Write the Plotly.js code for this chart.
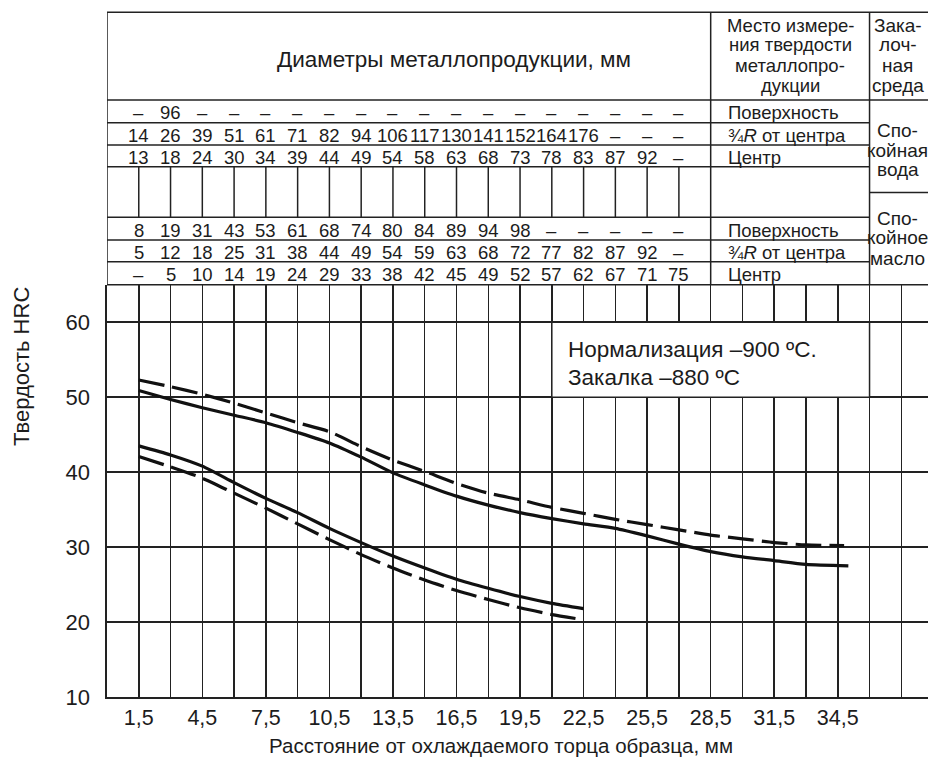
<!DOCTYPE html>
<html>
<head>
<meta charset="utf-8">
<script src="https://cdn.plot.ly/plotly-3.0.1.min.js"></script>
<style>html,body{margin:0;padding:0;background:#fff;}</style>
</head>
<body>
<div id="chart" style="width:928px;height:758px;"></div>
<script>
// ---------------- DATA ----------------
// Jominy curves: distance from quenched end (mm) vs hardness HRC
const distUpperSolid = [1.5,3,4.5,6,7.5,9,10.5,12,13.5,15,16.5,18,19.5,21,22.5,24,25.5,27,28.5,30,31.5,33,35.0];
const hrcUpperSolid  = [50.9,49.7,48.6,47.6,46.6,45.3,43.9,42.0,39.9,38.3,36.8,35.6,34.6,33.8,33.1,32.5,31.5,30.4,29.4,28.7,28.2,27.7,27.5];
const distUpperDash  = [1.5,3,4.5,6,7.5,9,10.5,12,13.5,15,16.5,18,19.5,21,22.5,24,25.5,27,28.5,30,31.5,33,34.8];
const hrcUpperDash   = [52.3,51.4,50.4,49.2,47.9,46.6,45.4,43.4,41.6,40.1,38.5,37.2,36.3,35.3,34.5,33.7,33.0,32.3,31.6,31.1,30.6,30.3,30.2];
const distLower      = [1.5,3,4.5,6,7.5,9,10.5,12,13.5,15,16.5,18,19.5,21,22.5];
const hrcLowerSolid  = [43.5,42.3,40.8,38.6,36.5,34.6,32.5,30.6,28.8,27.2,25.7,24.5,23.4,22.5,21.8];
const hrcLowerDash   = [42.1,40.7,39.2,37.2,35.2,33.1,31.0,29.0,27.2,25.6,24.2,23.0,21.9,21.0,20.3];

// axis ticks
const xTickVals   = [1.5,4.5,7.5,10.5,13.5,16.5,19.5,22.5,25.5,28.5,31.5,34.5];
const xTickLabels = ['1,5','4,5','7,5','10,5','13,5','16,5','19,5','22,5','25,5','28,5','31,5','34,5'];
const yTickVals   = [10,20,30,40,50,60];
const yTickLabels = ['10','20','30','40','50','60'];

// table: product diameters (mm) per distance column
const waterSurface = ['–','96','–','–','–','–','–','–','–','–','–','–','–','–','–','–','–','–'];
const water34R     = ['14','26','39','51','61','71','82','94','106','117','130','141','152','164','176','–','–','–'];
const waterCenter  = ['13','18','24','30','34','39','44','49','54','58','63','68','73','78','83','87','92','–'];
const oilSurface   = ['8','19','31','43','53','61','68','74','80','84','89','94','98','–','–','–','–','–'];
const oil34R       = ['5','12','18','25','31','38','44','49','54','59','63','68','72','77','82','87','92','–'];
const oilCenter    = ['–','5','10','14','19','24','29','33','38','42','45','49','52','57','62','67','71','75'];

const placeLabels  = ['Поверхность','¾<i>R</i> от центра','Центр'];
const headerMain   = 'Диаметры металлопродукции, мм';
const headerPlace  = ['Место измере-','ния твердости','металлопро-','дукции'];
const headerMedium = ['Зака-','лоч-','ная','среда'];
const mediumWater  = ['Спо-','койная','вода'];
const mediumOil    = ['Спо-','койное','масло'];
const noteLines    = ['Нормализация –900 ºC.','Закалка –880 ºC'];
const xTitle = 'Расстояние от охлаждаемого торца образца, мм';
const yTitle = 'Твердость HRC';

// ---------------- DRAWING ----------------
const FONT = '"Liberation Sans", Arial, Helvetica, sans-serif';
const TXT = '#1c1c1c';
const LINE = '#222';
const LW = 1.5;
const H = 758, T = 12, B = 61;
const PH = H - T - B;                 // plot area height in px
const yBottomPx = H - B;              // pixel row of y=10
const PY = py => (yBottomPx - py) / PH; // pixel row -> paper y
const XMAX = 38.76;
const YDOM = 0.6018;

// grid positions every 1.5 mm
const gridX = [];
for (let k = 1; k <= 25; k++) gridX.push(+(1.5 * k).toFixed(1));
const gridText = gridX.map(v => { const i = xTickVals.indexOf(v); return i >= 0 ? xTickLabels[i] : ''; });

const curveLine = (dash) => ({color: '#111', width: 3.2, dash: dash, shape: 'spline', smoothing: 0.6});
const traces = [
  {x: distUpperDash, y: hrcUpperDash, mode: 'lines', line: curveLine('26px,8px'), hoverinfo: 'skip'},
  {x: distUpperSolid, y: hrcUpperSolid, mode: 'lines', line: curveLine('solid'), hoverinfo: 'skip'},
  {x: distLower, y: hrcLowerSolid, mode: 'lines', line: curveLine('solid'), hoverinfo: 'skip'},
  {x: distLower, y: hrcLowerDash, mode: 'lines', line: curveLine('26px,8px'), hoverinfo: 'skip'}
];

// table geometry (pixel rows)
const yTop = 12.3, yHead = 100, yR1 = 122.7, yR2 = 145, yR3 = 166.7, yE = 217.3, yR5 = 240, yR6 = 261.7;
const yTabBottom = yBottomPx - PH * YDOM;
const yMid = 192.5;
const X_PLACE = 28.5, X_MED = 36, X_END = 40;

const shapes = [];
const hline = (x0, x1, py) => shapes.push({type: 'line', xref: 'x', yref: 'paper', x0: x0, x1: x1, y0: PY(py), y1: PY(py), line: {color: LINE, width: LW}, layer: 'above'});
const vline = (x, py0, py1) => shapes.push({type: 'line', xref: 'x', yref: 'paper', x0: x, x1: x, y0: PY(py0), y1: PY(py1), line: {color: LINE, width: LW}, layer: 'above'});

hline(0, X_END, yTop);
hline(0, X_END, yHead);
[yR1, yR2, yR3, yE, yR5, yR6].forEach(p => hline(0, X_MED, p));
hline(X_MED, X_END, yMid);
hline(0, X_END, yTabBottom);
vline(0, yTop, yTabBottom);
vline(X_PLACE, yTop, yTabBottom);
vline(X_MED, yTop, yTabBottom);
for (let k = 1; k <= 18; k++) vline(1.5 * k, yR3, yE);

// note box
shapes.push({type: 'rect', xref: 'x', yref: 'y', x0: 21, x1: 36, y0: 50, y1: 60, fillcolor: '#fff', line: {color: LINE, width: LW}, layer: 'above'});

const annotations = [];
const txt = (x, xref, py, text, size, xanchor) => annotations.push({
  x: x, xref: xref, y: PY(py), yref: 'paper', text: text, showarrow: false,
  xanchor: xanchor || 'center', yanchor: 'middle', font: {family: FONT, size: size, color: TXT}
});

// table numbers
const rows = [
  [waterSurface, (yHead + yR1) / 2],
  [water34R, (yR1 + yR2) / 2],
  [waterCenter, (yR2 + yR3) / 2],
  [oilSurface, (yE + yR5) / 2],
  [oil34R, (yR5 + yR6) / 2],
  [oilCenter, (yR6 + yTabBottom) / 2]
];
rows.forEach(([vals, pc]) => vals.forEach((v, i) => txt(1.5 * (i + 1), 'x', pc + 1.5, v, 18.5)));

// place labels
[[yHead, yR1], [yR1, yR2], [yR2, yR3], [yE, yR5], [yR5, yR6], [yR6, yTabBottom]].forEach((r, i) => {
  txt(29.2, 'x', (r[0] + r[1]) / 2 + 1.5, placeLabels[i % 3], 18.5, 'left');
});

// headers
txt(16.4, 'x', 59, headerMain, 22.5);
headerPlace.forEach((t, i) => txt(32.25, 'x', 25 + 20 * i, t, 18.5));
headerMedium.forEach((t, i) => txt(37.32, 'x', 25 + 20 * i, t, 19));
mediumWater.forEach((t, i) => txt(37.32, 'x', 131 + 19.5 * i, t, 19));
mediumOil.forEach((t, i) => txt(37.32, 'x', 218 + 20 * i, t, 19));

// note in the box
annotations.push({x: 21.65, xref: 'x', y: 56.3, yref: 'y', text: noteLines[0], showarrow: false, xanchor: 'left', yanchor: 'middle', font: {family: FONT, size: 22.5, color: TXT}});
annotations.push({x: 21.65, xref: 'x', y: 52.6, yref: 'y', text: noteLines[1], showarrow: false, xanchor: 'left', yanchor: 'middle', font: {family: FONT, size: 22.5, color: TXT}});

// axis titles
annotations.push({x: 18.6, xref: 'x', y: PY(745), yref: 'paper', text: xTitle, showarrow: false, xanchor: 'center', yanchor: 'middle', font: {family: FONT, size: 20.5, color: TXT}});
annotations.push({x: (22 - 107) / (928 - 107), xref: 'paper', y: PY(367), yref: 'paper', text: yTitle, textangle: -90, showarrow: false, xanchor: 'center', yanchor: 'middle', font: {family: FONT, size: 22, color: TXT}});

const layout = {
  width: 928, height: 758,
  margin: {l: 107, r: 0, t: T, b: B, pad: 0},
  paper_bgcolor: '#fff', plot_bgcolor: '#fff',
  showlegend: false,
  font: {family: FONT, color: TXT},
  xaxis: {
    range: [0, XMAX], tickmode: 'array', tickvals: gridX, ticktext: gridText,
    showgrid: true, gridcolor: LINE, gridwidth: LW, zeroline: false,
    showline: true, linecolor: LINE, linewidth: 1.6,
    ticks: 'outside', ticklen: 1, tickcolor: 'rgba(0,0,0,0)',
    tickfont: {family: FONT, size: 21.5, color: TXT}, fixedrange: true, automargin: false
  },
  yaxis: {
    domain: [0, YDOM], range: [10, 65], tickmode: 'array', tickvals: yTickVals, ticktext: yTickLabels,
    showgrid: true, gridcolor: LINE, gridwidth: LW, zeroline: false,
    showline: true, linecolor: LINE, linewidth: 1.6,
    ticks: 'outside', ticklen: 11, tickcolor: 'rgba(0,0,0,0)',
    tickfont: {family: FONT, size: 22, color: TXT}, fixedrange: true, automargin: false
  },
  shapes: shapes,
  annotations: annotations
};

Plotly.newPlot('chart', traces, layout, {staticPlot: true, displayModeBar: false});
</script>
</body>
</html>
